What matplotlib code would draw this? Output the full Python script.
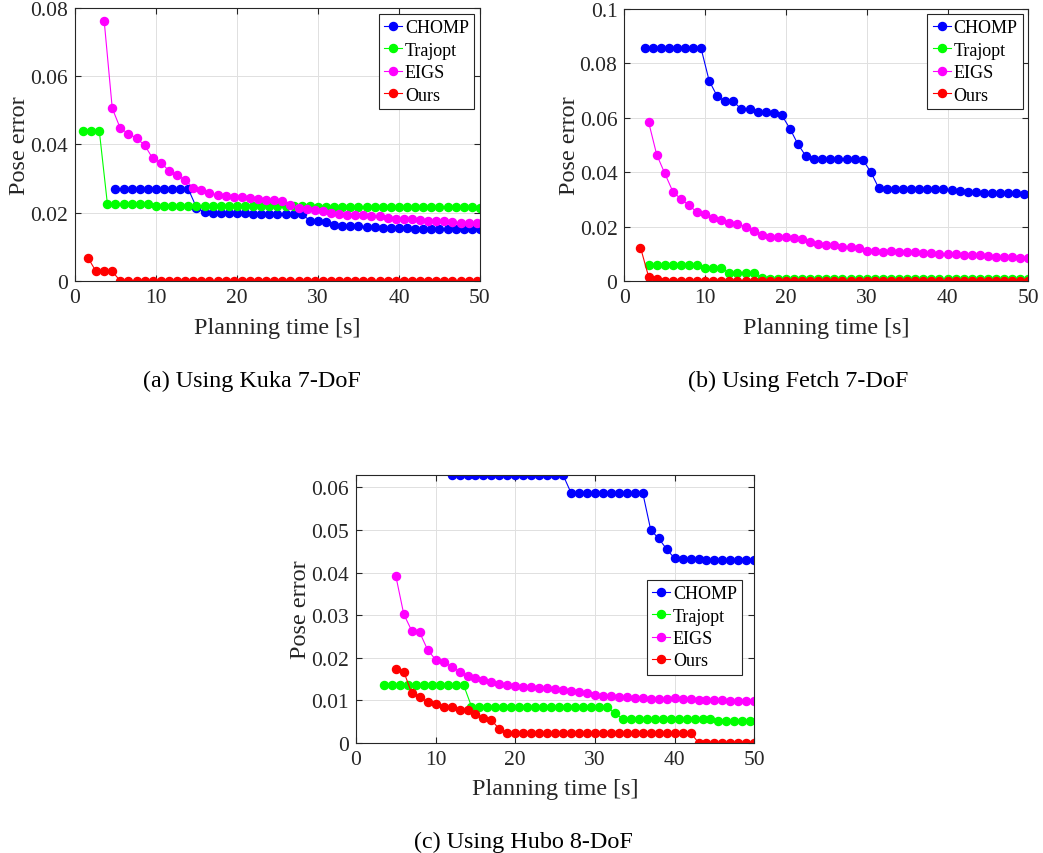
import numpy as np
import matplotlib
matplotlib.use('Agg')
import matplotlib.pyplot as plt
from matplotlib.ticker import FuncFormatter

plt.rcParams['font.family'] = ['Liberation Serif', 'DejaVu Serif']

labels = ['CHOMP', 'Trajopt', 'EIGS', 'Ours']
colors = ['#0000ff', '#00ff00', '#ff00ff', '#ff0000']

# (a) Kuka 7-DoF
a_chomp_x = np.arange(5, 51)
a_chomp_y = ([0.0269] * 10 + [0.0215] +
             [0.0201, 0.0200, 0.0200, 0.0199, 0.0198, 0.0198, 0.0197, 0.0197,
              0.0197, 0.0196, 0.0196, 0.0196, 0.0196] +
             [0.0177, 0.0177, 0.0172, 0.0164, 0.0162, 0.0162, 0.0160, 0.0157,
              0.0157, 0.0155, 0.0155, 0.0155, 0.0154] + [0.0152] * 9)
a_traj_x = np.arange(1, 51)
a_traj_y = ([0.0440] * 3 + [0.0226] * 6 + [0.0221] * 10 + [0.0220] * 10 +
            [0.0218] * 10 + [0.0216] * 10 + [0.0213])
a_eigs_x = np.arange(3.6, 50, 1.0)
a_eigs_y = [0.0763, 0.0506, 0.0447, 0.0432, 0.0418, 0.0398, 0.0359, 0.0347, 0.0323, 0.0310, 0.0296,
            0.0273, 0.0266, 0.0259, 0.0251, 0.0249, 0.0247, 0.0245, 0.0242, 0.0240, 0.0237,
            0.0237, 0.0235, 0.0222, 0.0215, 0.0212, 0.0208, 0.0205, 0.0200, 0.0196, 0.0194,
            0.0193, 0.0193, 0.0191, 0.0189, 0.0186, 0.0183, 0.0181, 0.0181, 0.0178, 0.0176,
            0.0176, 0.0176, 0.0173, 0.0171, 0.0171, 0.0169]
a_ours_x = np.arange(1.6, 50, 1.0)
a_ours_y = [0.0068, 0.0028, 0.0028, 0.0028] + [0.0] * 45

# (b) Fetch 7-DoF
b_chomp_x = np.arange(2.5, 50, 1.0)
b_chomp_y = ([0.0855] * 8 +
             [0.0736, 0.0679, 0.0660, 0.0660, 0.0631, 0.0631, 0.0620, 0.0620,
              0.0616, 0.0609, 0.0560, 0.0502, 0.0458] +
             [0.0449] * 6 + [0.0446, 0.0401, 0.0341] +
             [0.0339, 0.0338, 0.0338, 0.0337, 0.0337, 0.0337, 0.0337, 0.0337, 0.0336] +
             [0.0330, 0.0326, 0.0326, 0.0325, 0.0325, 0.0324, 0.0324, 0.0324, 0.0321])
b_traj_x = np.arange(3, 51)
b_traj_y = ([0.0059] * 7 + [0.0049] * 3 + [0.0029] * 4 + [0.0012] +
            [0.0009] * 5 + [0.0008] * 8 + [0.0007] * 10 + [0.0006] * 10)
b_eigs_x = np.arange(3, 51)
b_eigs_y = [0.0585, 0.0465, 0.0396, 0.0329, 0.0301, 0.0279, 0.0252, 0.0245, 0.0233, 0.0225,
            0.0215, 0.0209, 0.0200, 0.0184, 0.0169, 0.0163, 0.0161, 0.0161, 0.0157, 0.0153,
            0.0145, 0.0136, 0.0133, 0.0131, 0.0125, 0.0124, 0.0123, 0.0110, 0.0109, 0.0107,
            0.0109, 0.0107, 0.0107, 0.0107, 0.0104, 0.0102, 0.0100, 0.0099, 0.0098, 0.0097,
            0.0096, 0.0095, 0.0093, 0.0089, 0.0088, 0.0087, 0.0085, 0.0086]
b_ours_x = np.arange(2, 51)
b_ours_y = [0.0123, 0.0016, 0.0009] + [0.0] * 46

# (c) Hubo 8-DoF
c_chomp_x = np.arange(12, 51)
c_chomp_y = ([0.0629] * 15 + [0.0587] * 10 + [0.0500, 0.0480, 0.0455, 0.0433] +
             [0.0431, 0.0431, 0.0431, 0.0430, 0.0430, 0.0430, 0.0429, 0.0429, 0.0429, 0.0429])
c_traj_x = np.arange(3.5, 50, 1.0)
c_traj_y = ([0.0136] * 11 + [0.0085] * 18 + [0.0069] + [0.0056] * 9 +
            [0.0055] * 3 + [0.0052] * 5)
c_eigs_x = np.arange(5, 51)
c_eigs_y = [0.0392, 0.0302, 0.0263, 0.0259, 0.0218, 0.0195, 0.0189, 0.0179, 0.0167, 0.0157,
            0.0152, 0.0148, 0.0142, 0.0138, 0.0136, 0.0134, 0.0132, 0.0130, 0.0128, 0.0128,
            0.0126, 0.0124, 0.0122, 0.0120, 0.0117, 0.0113, 0.0110, 0.0109, 0.0108, 0.0107,
            0.0106, 0.0105, 0.0103, 0.0103, 0.0103, 0.0104, 0.0103, 0.0102, 0.0101, 0.0101,
            0.0100, 0.0100, 0.0099, 0.0099, 0.0099, 0.0097]
c_ours_x = np.arange(5, 51)
c_ours_y = ([0.0172, 0.0167, 0.0116, 0.0108, 0.0095, 0.0092, 0.0085, 0.0085, 0.0076, 0.0076,
             0.0068, 0.0057, 0.0053, 0.0032] + [0.0023] * 24 + [0.0] * 8)

panels = [
    {'rect': [0.0719, 0.6698, 0.3883, 0.3197], 'ylim': 0.08, 'yticks': np.arange(0, 0.081, 0.02),
     'data': [(a_chomp_x, a_chomp_y), (a_traj_x, a_traj_y), (a_eigs_x, a_eigs_y), (a_ours_x, a_ours_y)],
     'leg': (0.986, 0.978), 'caption': '(a) Using Kuka 7-DoF', 'cap_xy': (252, 381)},
    {'rect': [0.5986, 0.6698, 0.3873, 0.3185], 'ylim': 0.1, 'yticks': np.arange(0, 0.101, 0.02),
     'data': [(b_chomp_x, b_chomp_y), (b_traj_x, b_traj_y), (b_eigs_x, b_eigs_y), (b_ours_x, b_ours_y)],
     'leg': (0.987, 0.982), 'caption': '(b) Using Fetch 7-DoF', 'cap_xy': (798, 381)},
    {'rect': [0.3413, 0.1292, 0.3819, 0.3138], 'ylim': 0.063, 'yticks': np.arange(0, 0.061, 0.01),
     'data': [(c_chomp_x, c_chomp_y), (c_traj_x, c_traj_y), (c_eigs_x, c_eigs_y), (c_ours_x, c_ours_y)],
     'leg': (0.970, 0.608), 'caption': '(c) Using Hubo 8-DoF', 'cap_xy': (523, 842)},
]

W, H = 1043, 854
fig = plt.figure(figsize=(W / 100, H / 100), dpi=100)

fmt = FuncFormatter(lambda v, p: '0' if abs(v) < 1e-12 else ('%g' % round(v, 4)))

for p in panels:
    ax = fig.add_axes(p['rect'])
    for (x, y), lab, c in zip(p['data'], labels, colors):
        ax.plot(x, y, '-o', color=c, label=lab, lw=0.8, ms=5.8, mec=c, mfc=c)
    ax.set_xlim(0, 50)
    ax.set_ylim(0, p['ylim'])
    ax.set_xticks([0, 10, 20, 30, 40, 50])
    ax.set_yticks(p['yticks'])
    ax.yaxis.set_major_formatter(fmt)
    ax.grid(True, color='#e0e0e0', lw=0.7)
    ax.set_axisbelow(True)
    for s in ax.spines.values():
        s.set_color('#262626')
        s.set_linewidth(0.8)
    ax.tick_params(direction='in', top=True, right=True, length=4, width=0.8,
                   colors='#262626', labelsize=15.5, pad=5)
    ax.set_xlabel('Planning time [s]', fontsize=17.4, color='#262626', labelpad=7)
    ax.set_ylabel('Pose error', fontsize=17.4, color='#262626', labelpad=0)
    leg = ax.legend(loc='upper right', bbox_to_anchor=p['leg'], borderaxespad=0,
                    fontsize=13, fancybox=False, framealpha=1, edgecolor='#262626',
                    handlelength=1.0, handletextpad=0.15, labelspacing=0.3,
                    borderpad=0.3)
    leg.get_frame().set_linewidth(0.8)
    fig.text(p['cap_xy'][0] / W, 1 - p['cap_xy'][1] / H, p['caption'],
             fontsize=17.4, ha='center', va='center')

fig.savefig('out.png', dpi=100)
